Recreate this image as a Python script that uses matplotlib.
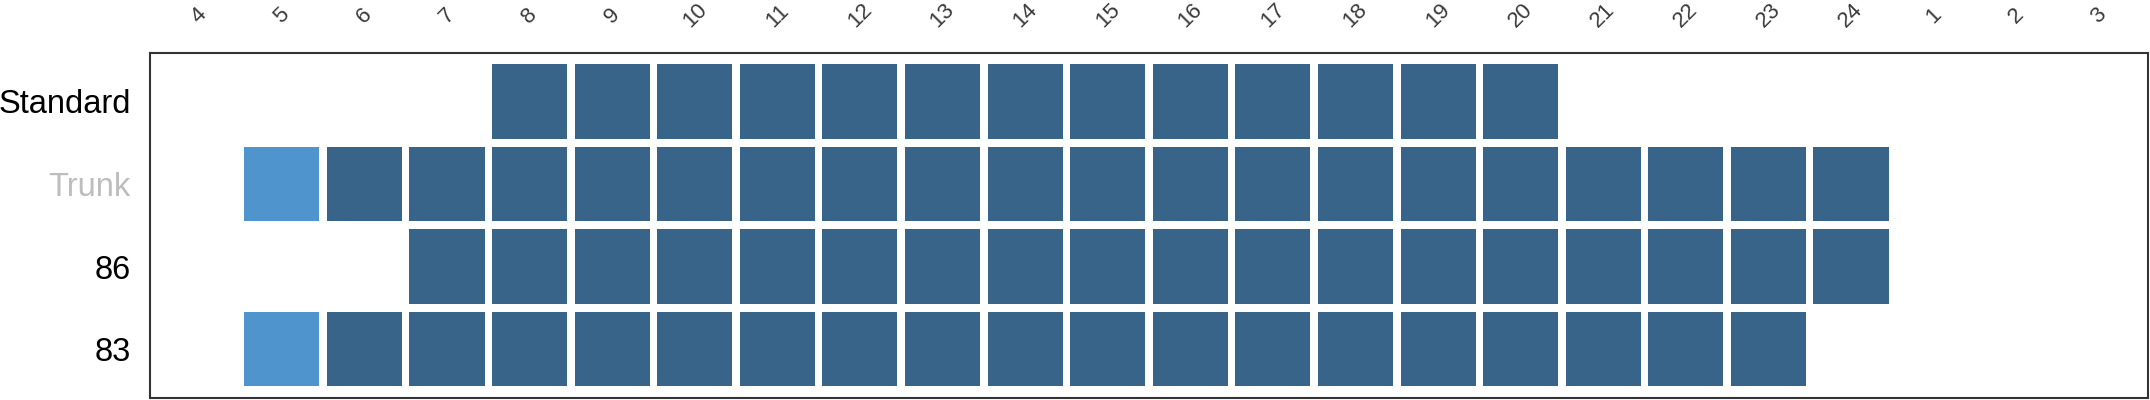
import matplotlib
matplotlib.use("Agg")
import matplotlib.pyplot as plt

# ---- data ----
hour_labels = [str(h) for h in range(4, 25)] + ["1", "2", "3"]
row_labels = ["Standard", "Trunk", "86", "83"]
row_label_colors = ["#000000", "#bdbdbd", "#000000", "#000000"]
# 0 = empty, 1 = light (partial), 2 = dark (full)
standard = [0, 0, 0, 0, 2, 2, 2, 2, 2, 2, 2, 2, 2, 2, 2, 2, 2, 0, 0, 0, 0, 0, 0, 0]
trunk    = [0, 1, 2, 2, 2, 2, 2, 2, 2, 2, 2, 2, 2, 2, 2, 2, 2, 2, 2, 2, 2, 0, 0, 0]
r86      = [0, 0, 0, 2, 2, 2, 2, 2, 2, 2, 2, 2, 2, 2, 2, 2, 2, 2, 2, 2, 2, 0, 0, 0]
r83      = [0, 1, 2, 2, 2, 2, 2, 2, 2, 2, 2, 2, 2, 2, 2, 2, 2, 2, 2, 2, 0, 0, 0, 0]
series = [standard, trunk, r86, r83]
level_colors = {1: "#4f94cd", 2: "#38648a"}

plt.rcParams["font.family"] = ["Liberation Sans", "DejaVu Sans"]

fig = plt.figure(figsize=(21.5, 4.0), dpi=100)
ax = fig.add_axes([150 / 2150, 2 / 400, 1998 / 2150, 345 / 400])

for r, vals in enumerate(series):
    for lvl, col in level_colors.items():
        xs = [i for i, v in enumerate(vals) if v == lvl]
        if xs:
            ax.bar(xs, 0.9, bottom=r - 0.45, width=0.91, color=col,
                   linewidth=0, align="center")

ax.set_xlim(-0.595, len(hour_labels) - 1 + 0.595)
ax.set_ylim(len(row_labels) - 1 + 0.59, -0.585)

ax.xaxis.tick_top()
ax.set_xticks(range(len(hour_labels)))
ax.set_xticklabels(hour_labels, rotation=45, ha="center", va="center",
                   fontsize=16, color="#3a3a3a")
ax.tick_params(axis="x", length=0, pad=27)

ax.set_yticks(range(len(row_labels)))
ax.set_yticklabels(row_labels, fontsize=23.5)
for lbl, c in zip(ax.get_yticklabels(), row_label_colors):
    lbl.set_color(c)
ax.tick_params(axis="y", length=0, pad=14)

for s in ax.spines.values():
    s.set_color("#333333")
    s.set_linewidth(1.5)

fig.savefig("out.png", dpi=100)
